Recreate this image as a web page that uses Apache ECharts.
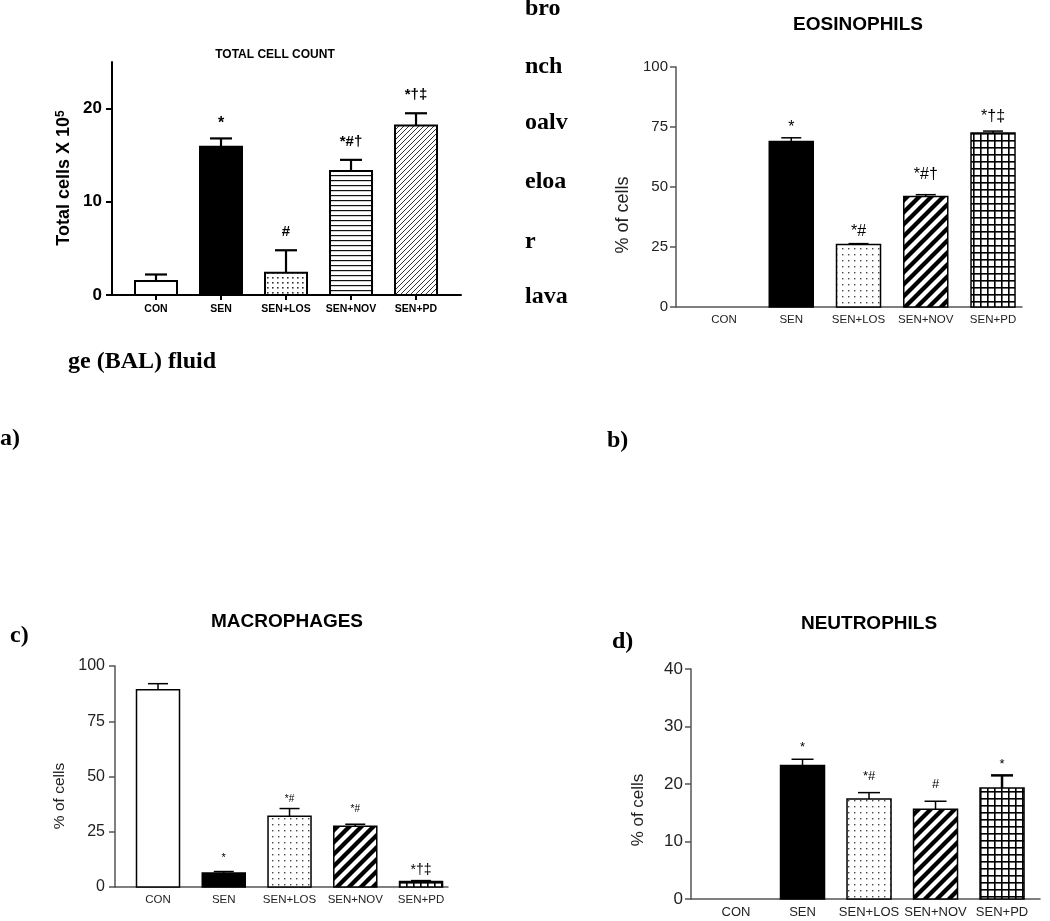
<!DOCTYPE html>
<html>
<head>
<meta charset="utf-8">
<script src="https://cdn.jsdelivr.net/npm/echarts@6/dist/echarts.min.js"></script>
<style>
html,body{margin:0;padding:0;background:#fff;}
#chart{width:1050px;height:921px;}
</style>
</head>
<body>
<div id="chart"></div>
<script>
// ---------- DATA ----------
const categories = ['CON', 'SEN', 'SEN+LOS', 'SEN+NOV', 'SEN+PD'];

const totalTicks = [0, 10, 20];
const totalMean = [1.5, 15.9, 2.4, 13.3, 18.2];
const totalSem  = [0.7, 0.9, 2.4, 1.2, 1.3];
const totalMarks = ['', '*', '#', '*#†', '*†‡'];

const eosTicks = [0, 25, 50, 75, 100];
const eosMean = [0, 69, 26, 46, 72.5];
const eosSem  = [0, 1.5, 0.4, 0.8, 0.8];
const eosMarks = ['', '*', '*#', '*#†', '*†‡'];

const macTicks = [0, 25, 50, 75, 100];
const macMean = [89.3, 6.3, 32, 27.5, 2.5];
const macSem  = [2.7, 0.7, 3.5, 0.9, 0.4];
const macMarks = ['', '*', '*#', '*#', '*†‡'];

const neuTicks = [0, 10, 20, 30, 40];
const neuMean = [0, 23.2, 17.4, 15.6, 19.3];
const neuSem  = [0, 1.1, 1.1, 1.4, 2.2];
const neuMarks = ['', '*', '*#', '#', '*'];

// ---------- PATTERNS ----------
function tile(w, h, draw) {
  const c = document.createElement('canvas');
  c.width = w; c.height = h;
  const ctx = c.getContext('2d');
  ctx.fillStyle = '#fff'; ctx.fillRect(0, 0, w, h);
  draw(ctx);
  return { image: c, repeat: 'repeat' };
}
const P = {
  white: '#ffffff',
  black: '#000000',
  dotsA: tile(5, 5, ctx => { ctx.fillStyle = '#333'; ctx.fillRect(2, 2, 1.6, 1.6); }),
  hlines: tile(4, 5, ctx => { ctx.fillStyle = '#111'; ctx.fillRect(0, 0, 4, 1.2); }),
  fineDiag: tile(5, 5, ctx => { ctx.fillStyle = '#333'; for (let i = 0; i < 5; i++) ctx.fillRect(i, 4 - i, 1, 1); }),
  dotsB: tile(6, 6, ctx => { ctx.fillStyle = '#444'; ctx.fillRect(2, 2, 1.4, 1.4); }),
  thickDiag: tile(12, 12, ctx => {
    ctx.strokeStyle = '#000'; ctx.lineWidth = 4.3;
    for (let k = -1; k <= 1; k++) { ctx.beginPath(); ctx.moveTo(k * 12 - 2, 14); ctx.lineTo(k * 12 + 14, -2); ctx.stroke(); }
  }),
  grid: tile(7, 7, ctx => { ctx.fillStyle = '#000'; ctx.fillRect(0, 0, 7, 1.6); ctx.fillRect(0, 0, 1.6, 7); })
};

const FONT = '"Liberation Sans", Arial, sans-serif';
const SERIF = '"Liberation Serif", "Times New Roman", serif';

// ---------- PANEL STYLE CONFIG ----------
const panels = [
  { mean: totalMean, sem: totalSem, marks: totalMarks, ticks: totalTicks,
    grid: { left: 112, top: 62, width: 349, height: 233 }, xMin: -0.677, xMax: 4.692, yMax: 25,
    fills: [P.white, P.black, P.dotsA, P.hlines, P.fineDiag], barW: 42, border: 2, errW: 2.2, cap: 22,
    markFont: ['', 'bold 16px', 'bold 15px', 'bold 15px', 'bold 15px'], markGap: [0, 15, 18, 18, 18],
    axisColor: '#000', axisW: 2, yLab: { fontSize: 17, fontWeight: 'bold', color: '#000', margin: 10 },
    xLab: { fontSize: 10.5, fontWeight: 'bold', color: '#000', margin: 9 }, xTick: true },
  { mean: eosMean, sem: eosSem, marks: eosMarks, ticks: eosTicks,
    grid: { left: 676, top: 67, width: 346, height: 240 }, xMin: -0.714, xMax: 4.431, yMax: 100,
    fills: [P.white, P.black, P.dotsB, P.thickDiag, P.grid], barW: 44, border: 1.5, errW: 1.5, cap: 20,
    markFont: ['', '16px', '16px', '16px', '16px'], markGap: [0, 10, 12, 20, 14],
    axisColor: '#555', axisW: 1.5, yLab: { fontSize: 15, color: '#222', margin: 8 },
    xLab: { fontSize: 11.5, color: '#222', margin: 7 }, xTick: false },
  { mean: macMean, sem: macSem, marks: macMarks, ticks: macTicks,
    grid: { left: 115, top: 666, width: 333, height: 221 }, xMin: -0.654, xMax: 4.41, yMax: 100,
    fills: [P.white, P.black, P.dotsB, P.thickDiag, P.grid], barW: 43, border: 1.5, errW: 1.5, cap: 20,
    markFont: ['', '11px', '10px', '10px', '14px'], markGap: [0, 14, 9, 15, 10],
    axisColor: '#555', axisW: 1.5, yLab: { fontSize: 16, color: '#222', margin: 10 },
    xLab: { fontSize: 11.5, color: '#222', margin: 7 }, xTick: false },
  { mean: neuMean, sem: neuSem, marks: neuMarks, ticks: neuTicks,
    grid: { left: 691, top: 669, width: 349, height: 230 }, xMin: -0.677, xMax: 4.571, yMax: 40,
    fills: [P.white, P.black, P.dotsB, P.thickDiag, P.grid], barW: 44, border: 1.5, errW: 1.5, cap: 22,
    markFont: ['', '13px', '13px', '13px', '13px'], markGap: [0, 12, 16, 17, 11],
    axisColor: '#555', axisW: 1.5, yLab: { fontSize: 17, color: '#222', margin: 8 },
    xLab: { fontSize: 13, color: '#222', margin: 7 }, xTick: false }
];
panels[3].errWs = [0, 1.5, 1.5, 1.5, 2.5];

function makeRender(cfg) {
  return function (params, api) {
    const i = api.value(0), v = api.value(1), e = api.value(2);
    const idx = params.dataIndex;
    const base = api.coord([i, 0]);
    const top = api.coord([i, v]);
    const errTop = api.coord([i, v + e]);
    const bw = cfg.barW;
    const ew = cfg.errWs ? cfg.errWs[idx] : cfg.errW;
    const children = [];
    if (v > 0) {
      if (e > 0) {
        children.push({ type: 'line', shape: { x1: top[0], y1: top[1], x2: top[0], y2: errTop[1] }, style: { stroke: '#000', lineWidth: ew } });
        children.push({ type: 'line', shape: { x1: top[0] - cfg.cap / 2, y1: errTop[1], x2: top[0] + cfg.cap / 2, y2: errTop[1] }, style: { stroke: '#000', lineWidth: ew } });
      }
      children.push({ type: 'rect', shape: { x: base[0] - bw / 2, y: top[1], width: bw, height: base[1] - top[1] },
        style: { fill: cfg.fills[idx], stroke: '#000', lineWidth: cfg.border } });
    }
    const mark = cfg.marks[idx];
    if (mark) {
      children.push({ type: 'text', x: top[0], y: errTop[1] - cfg.markGap[idx],
        style: { text: mark, font: cfg.markFont[idx] + ' ' + FONT, fill: '#000', align: 'center', verticalAlign: 'middle' } });
    }
    return { type: 'group', children: children };
  };
}

const option = {
  backgroundColor: '#fff',
  animation: false,
  grid: panels.map(p => Object.assign({ containLabel: false }, p.grid)),
  xAxis: panels.map((p, gi) => ({
    gridIndex: gi, type: 'value', min: p.xMin, max: p.xMax,
    splitLine: { show: false },
    axisLine: { show: true, onZero: false, lineStyle: { color: p.axisColor, width: p.axisW } },
    axisTick: { show: p.xTick, customValues: [0, 1, 2, 3, 4], length: 5, lineStyle: { color: p.axisColor, width: p.axisW } },
    axisLabel: Object.assign({ customValues: [0, 1, 2, 3, 4], formatter: v => categories[Math.round(v)], fontFamily: FONT }, p.xLab)
  })),
  yAxis: panels.map((p, gi) => ({
    gridIndex: gi, type: 'value', min: 0, max: p.yMax,
    splitLine: { show: false },
    axisLine: { show: true, onZero: false, lineStyle: { color: p.axisColor, width: p.axisW } },
    axisTick: { show: true, customValues: p.ticks, length: 6, lineStyle: { color: p.axisColor, width: p.axisW } },
    axisLabel: Object.assign({ customValues: p.ticks, fontFamily: FONT }, p.yLab)
  })),
  series: panels.map((p, gi) => ({
    type: 'custom', xAxisIndex: gi, yAxisIndex: gi, clip: false,
    renderItem: makeRender(p),
    data: categories.map((c, i) => [i, p.mean[i], p.sem[i]])
  })),
  graphic: [
    // titles
    { type: 'text', x: 275, y: 55, style: { text: 'TOTAL CELL COUNT', font: 'bold 12px ' + FONT, fill: '#000', align: 'center', verticalAlign: 'middle' } },
    { type: 'text', x: 858, y: 25, style: { text: 'EOSINOPHILS', font: 'bold 19px ' + FONT, fill: '#000', align: 'center', verticalAlign: 'middle' } },
    { type: 'text', x: 287, y: 622, style: { text: 'MACROPHAGES', font: 'bold 19px ' + FONT, fill: '#000', align: 'center', verticalAlign: 'middle' } },
    { type: 'text', x: 869, y: 624, style: { text: 'NEUTROPHILS', font: 'bold 19px ' + FONT, fill: '#000', align: 'center', verticalAlign: 'middle' } },
    // y-axis names
    { type: 'text', x: 64, y: 178, rotation: Math.PI / 2,
      style: { text: '{a|Total cells X 10}{s|5}', align: 'center', verticalAlign: 'middle', fill: '#000',
        rich: { a: { font: 'bold 18px ' + FONT, fill: '#000' }, s: { font: 'bold 12px ' + FONT, fill: '#000', verticalAlign: 'top' } } } },
    { type: 'text', x: 623, y: 215, rotation: Math.PI / 2, style: { text: '% of cells', font: '18px ' + FONT, fill: '#222', align: 'center', verticalAlign: 'middle' } },
    { type: 'text', x: 60, y: 796, rotation: Math.PI / 2, style: { text: '% of cells', font: '15.5px ' + FONT, fill: '#222', align: 'center', verticalAlign: 'middle' } },
    { type: 'text', x: 638, y: 810, rotation: Math.PI / 2, style: { text: '% of cells', font: '17px ' + FONT, fill: '#222', align: 'center', verticalAlign: 'middle' } },
    // stray caption text
    { type: 'text', x: 525, y: 9, style: { text: 'bro', font: 'bold 24px ' + SERIF, fill: '#000', align: 'left', verticalAlign: 'middle' } },
    { type: 'text', x: 525, y: 67, style: { text: 'nch', font: 'bold 24px ' + SERIF, fill: '#000', align: 'left', verticalAlign: 'middle' } },
    { type: 'text', x: 525, y: 123, style: { text: 'oalv', font: 'bold 24px ' + SERIF, fill: '#000', align: 'left', verticalAlign: 'middle' } },
    { type: 'text', x: 525, y: 182, style: { text: 'eloa', font: 'bold 24px ' + SERIF, fill: '#000', align: 'left', verticalAlign: 'middle' } },
    { type: 'text', x: 525, y: 242, style: { text: 'r', font: 'bold 24px ' + SERIF, fill: '#000', align: 'left', verticalAlign: 'middle' } },
    { type: 'text', x: 525, y: 297, style: { text: 'lava', font: 'bold 24px ' + SERIF, fill: '#000', align: 'left', verticalAlign: 'middle' } },
    { type: 'text', x: 68, y: 362, style: { text: 'ge (BAL) fluid', font: 'bold 24px ' + SERIF, fill: '#000', align: 'left', verticalAlign: 'middle' } },
    { type: 'text', x: 0, y: 439, style: { text: 'a)', font: 'bold 24px ' + SERIF, fill: '#000', align: 'left', verticalAlign: 'middle' } },
    { type: 'text', x: 607, y: 441, style: { text: 'b)', font: 'bold 24px ' + SERIF, fill: '#000', align: 'left', verticalAlign: 'middle' } },
    { type: 'text', x: 10, y: 636, style: { text: 'c)', font: 'bold 24px ' + SERIF, fill: '#000', align: 'left', verticalAlign: 'middle' } },
    { type: 'text', x: 612, y: 642, style: { text: 'd)', font: 'bold 24px ' + SERIF, fill: '#000', align: 'left', verticalAlign: 'middle' } }
  ]
};

const chart = echarts.init(document.getElementById('chart'), null, { renderer: 'canvas' });
chart.setOption(option);
</script>
</body>
</html>
